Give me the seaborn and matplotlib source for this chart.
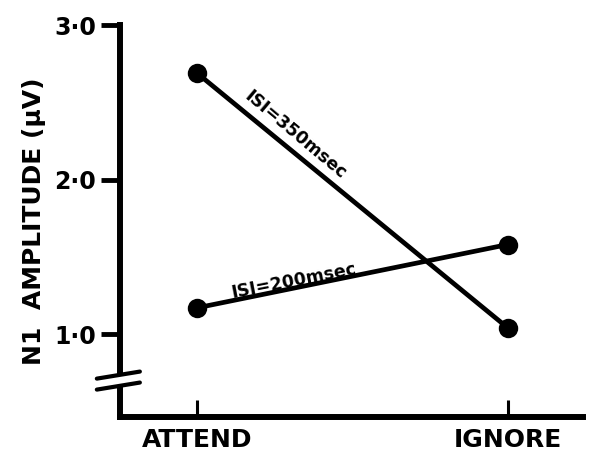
import numpy as np
import pandas as pd
import matplotlib
matplotlib.use("Agg")
import matplotlib.pyplot as plt
import seaborn as sns

conditions = ["ATTEND", "IGNORE"]
isi_350 = [2.69, 1.04]
isi_200 = [1.17, 1.58]
series_names = ["ISI=350msec", "ISI=200msec"]
y_ticks = [1.0, 2.0, 3.0]
y_tick_labels = ["1·0", "2·0", "3·0"]

sns.set_theme(style="white")
plt.rcParams['font.family'] = ['DejaVu Sans']
plt.rcParams['text.color'] = 'black'
plt.rcParams['axes.labelcolor'] = 'black'
plt.rcParams['xtick.color'] = 'black'
plt.rcParams['ytick.color'] = 'black'

df = pd.DataFrame({
    "x": [0, 1, 0, 1],
    "amp": isi_350 + isi_200,
    "isi": [series_names[0]] * 2 + [series_names[1]] * 2,
})

fig = plt.figure(figsize=(5.91, 4.67), dpi=100)
ax = fig.add_axes([0.203, 0.107, 0.783, 0.839])

sns.lineplot(data=df, x="x", y="amp", hue="isi", palette=["black", "black"],
             marker="o", markersize=14, linewidth=3.4, markeredgewidth=0,
             legend=False, ax=ax)

ax.set_xlim(-0.248, 1.241)
ax.set_ylim(0.463, 3.0)
ax.set_xticks([0, 1])
ax.set_xticklabels(conditions, fontsize=18, fontweight="bold")
ax.set_yticks(y_ticks)
ax.set_yticklabels(y_tick_labels, fontsize=17, fontweight="bold")
ax.tick_params(axis="y", direction="out", length=14, width=3.5, pad=3, left=True)
ax.tick_params(axis="x", direction="in", length=12, width=2.2, pad=8, bottom=True)
ax.set_xlabel("")
ax.set_ylabel("N1  AMPLITUDE (μV)", fontsize=18, fontweight="bold", labelpad=6)

for s in ["top", "right"]:
    ax.spines[s].set_visible(False)
for s in ["left", "bottom"]:
    ax.spines[s].set_linewidth(4.3)
    ax.spines[s].set_color("black")

# labels along lines
ax.text(0.315, 2.29, series_names[0], rotation=-40, fontsize=12.5, fontweight="bold",
        ha="center", va="center", rotation_mode="anchor")
ax.text(0.31, 1.345, series_names[1], rotation=11, fontsize=12.5, fontweight="bold",
        ha="center", va="center", rotation_mode="anchor")

# axis break marks
trans = ax.transAxes
y1, y2 = 0.079, 0.107
ax.plot([0.0, 0.0], [y1 + 0.002, y2 - 0.002], color="white", lw=7, transform=trans,
        clip_on=False, solid_capstyle="butt", zorder=5)
for yy in (y1, y2):
    ax.plot([-0.05, 0.043], [yy - 0.009, yy + 0.009], color="black", lw=3.0,
            transform=trans, clip_on=False, zorder=6)

fig.savefig("out.png", dpi=100)
